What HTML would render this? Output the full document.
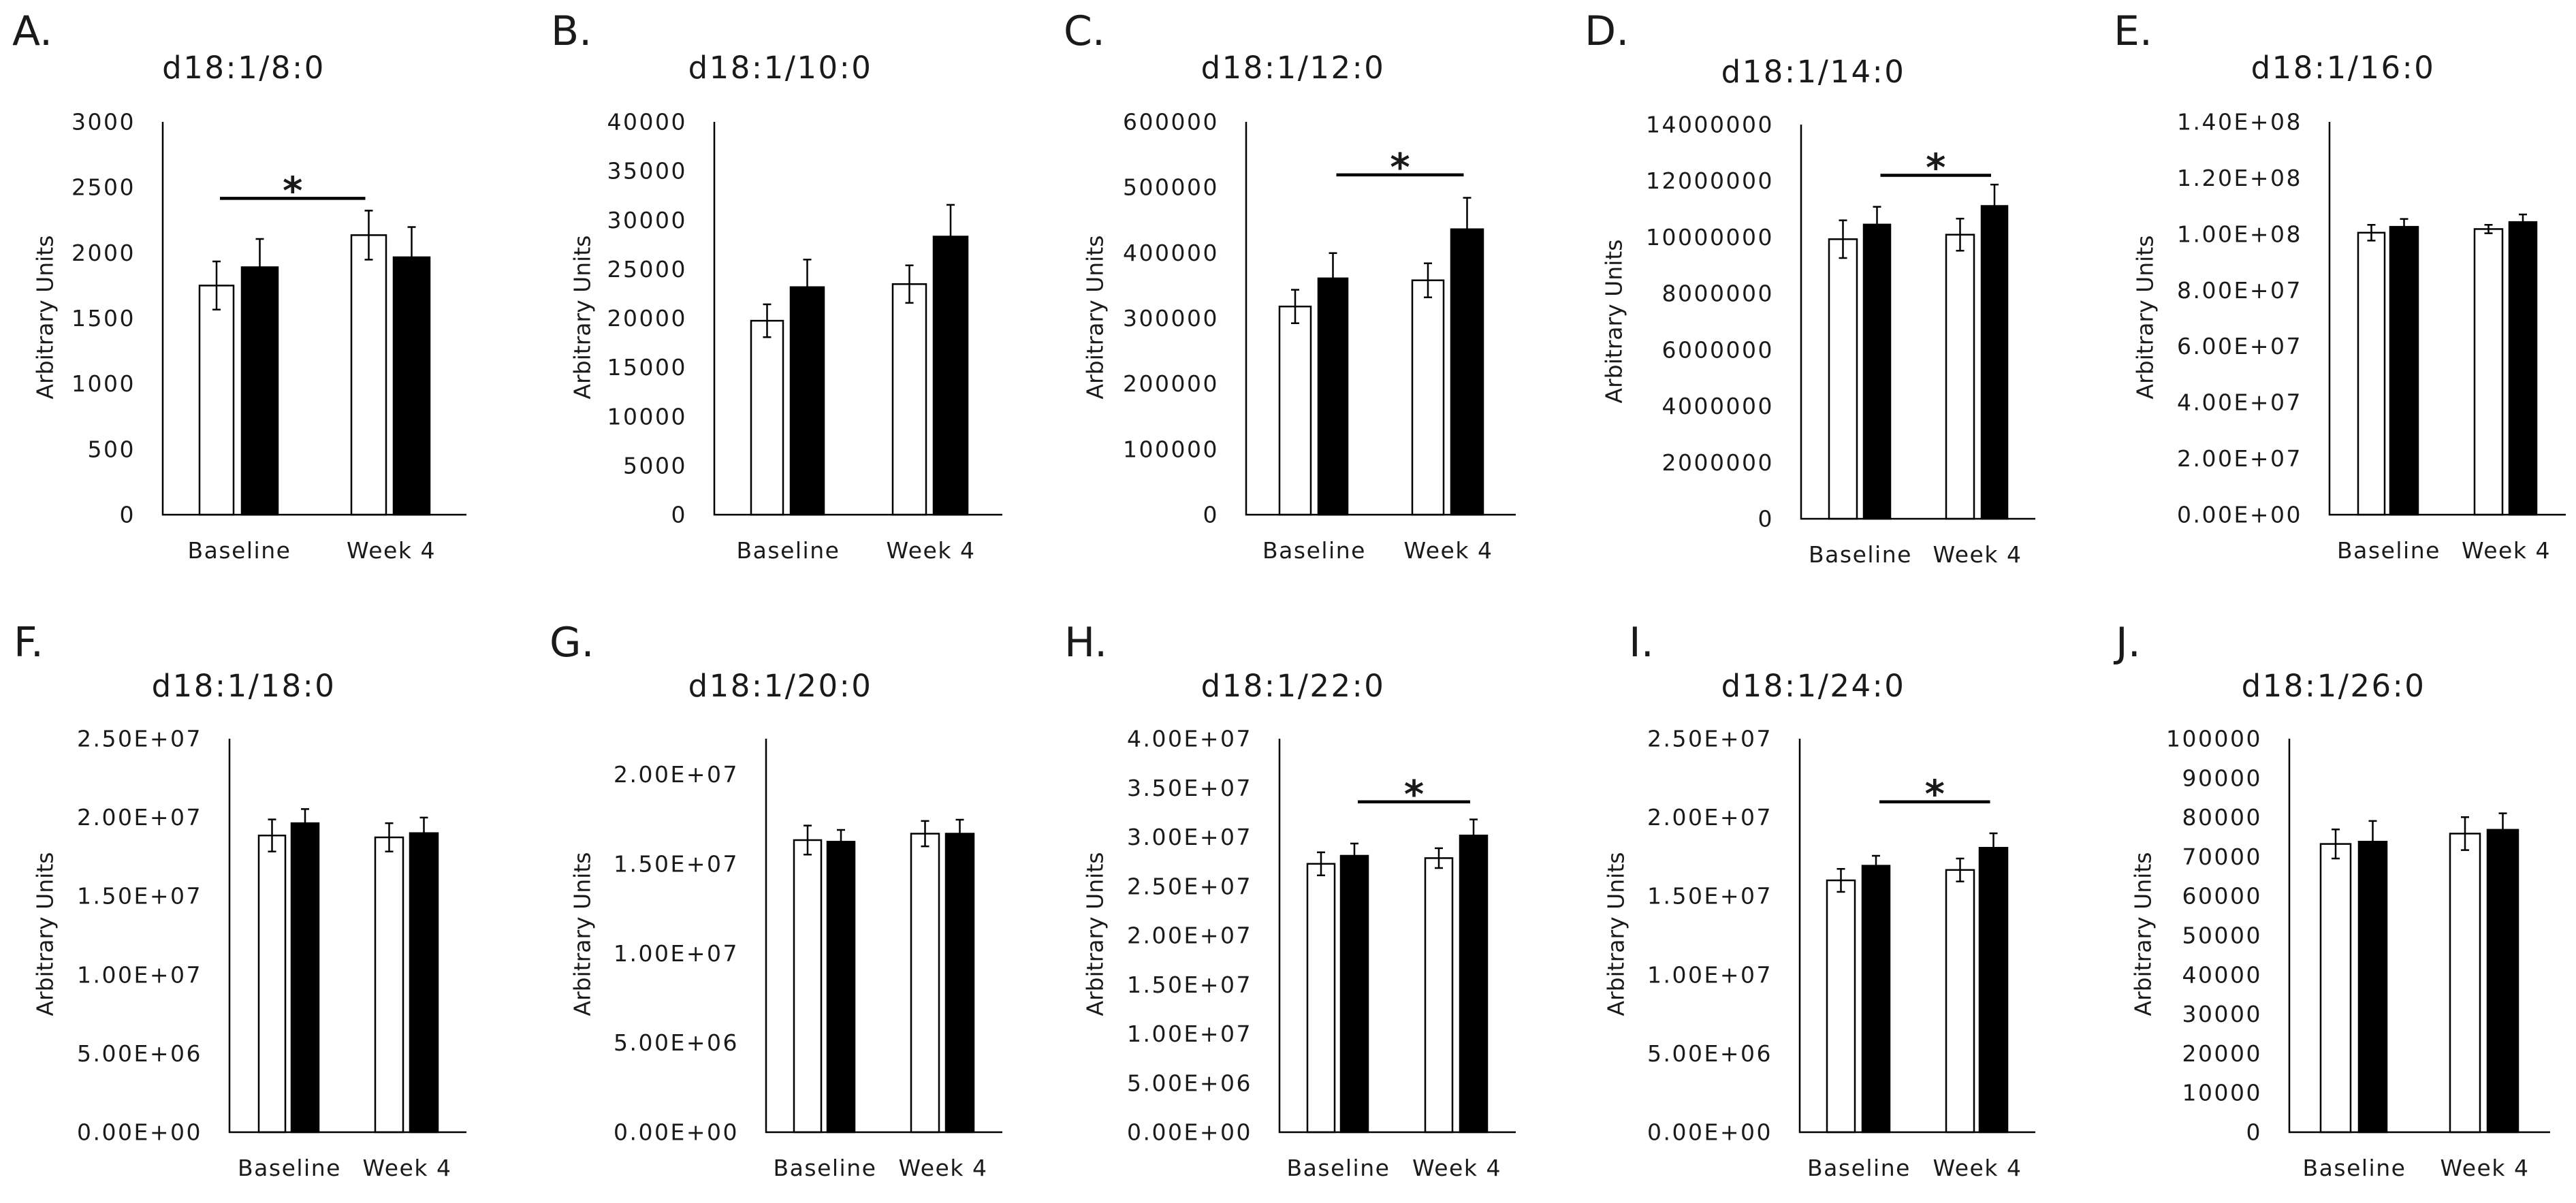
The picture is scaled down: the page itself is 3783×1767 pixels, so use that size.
<!DOCTYPE html>
<html><head><meta charset="utf-8"><style>
html,body{margin:0;padding:0;background:#fff;}
svg{display:block;}
text{font-family:"DejaVu Sans","Liberation Sans",sans-serif;fill:#1a1a1a;}
</style></head>
<body>
<svg id="fig" width="3783" height="1767" viewBox="0 0 3783 1767" xmlns="http://www.w3.org/2000/svg"></svg>
<script>
// ---- data ----
const panelLetters = ['A.','B.','C.','D.','E.','F.','G.','H.','I.','J.'];
const titles = ['d18:1/8:0','d18:1/10:0','d18:1/12:0','d18:1/14:0','d18:1/16:0','d18:1/18:0','d18:1/20:0','d18:1/22:0','d18:1/24:0','d18:1/26:0'];
const categories = ['Baseline','Week 4'];
const yMax = [3000,40000,600000,14000000,140000000,25000000,22000000,40000000,25000000,100000];
const yStep = [500,5000,100000,2000000,20000000,5000000,5000000,5000000,5000000,10000];
const tickExp = [false,false,false,false,true,true,true,true,true,false];
const whiteMeans = [[1750,2135],[19750,23480],[318000,358000],[9930000,10090000],[100500000,101800000],[18850000,18730000],[16330000,16690000],[27280000,27860000],[16000000,16660000],[73250,75880]];
const whiteErr = [[184,187],[1670,1910],[25500,26000],[670000,570000],[2800000,1500000],[1020000,900000],[810000,710000],[1170000,1010000],[730000,730000],[3700,4180]];
const blackMeans = [[1890,1966],[23170,28320],[361000,436000],[10450000,11110000],[102600000,104300000],[19630000,19000000],[16240000,16690000],[28100000,30160000],[16930000,18070000],[73830,76850]];
const blackErr = [[216,231],[2810,3230],[38600,48000],[630000,760000],[2800000,2700000],[900000,990000],[660000,780000],[1240000,1630000],[630000,920000],[5260,4180]];
// significance: bars 0=white base,1=black base,2=white wk4,3=black wk4
const sigPanels = [0,2,3,7,8];
const sigFrom = [0,1,1,1,1];
const sigTo = [2,3,3,3,3];
const sigValue = [2416,519000,12200000,33580000,20990000];

// ---- layout (pixels) ----
const L = [
 {ax:239,r:685,t:179,b:756,bars:[[293,343],[355,408],[516,567],[578,631]],lx:18,ly:66,tx:358,ty:115,yl:66,yc:466},
 {ax:1049,r:1472,t:179,b:756,bars:[[1103,1150],[1161,1210],[1311,1360],[1371,1421]],lx:809,ly:66,tx:1146,ty:115,yl:855,yc:466},
 {ax:1830,r:2226,t:179,b:756,bars:[[1879,1925],[1936,1979],[2074,2120],[2131,2178]],lx:1562,ly:66,tx:1899,ty:115,yl:1608,yc:466},
 {ax:2645,r:2989,t:183,b:762,bars:[[2686,2727],[2737,2776],[2858,2899],[2910,2948]],lx:2327,ly:66,tx:2663,ty:121,yl:2370,yc:472},
 {ax:3421,r:3768,t:179,b:756,bars:[[3463,3502],[3510,3551],[3634,3675],[3685,3725]],lx:3104,ly:66,tx:3441,ty:115,yl:3150,yc:466},
 {ax:337,r:685,t:1085,b:1663,bars:[[380,419],[428,468],[551,592],[602,643]],lx:20,ly:964,tx:358,ty:1023,yl:66,yc:1372},
 {ax:1125,r:1472,t:1085,b:1663,bars:[[1166,1206],[1215,1255],[1338,1379],[1389,1430]],lx:807,ly:964,tx:1146,ty:1023,yl:855,yc:1372},
 {ax:1879,r:2226,t:1085,b:1663,bars:[[1920,1960],[1969,2009],[2093,2133],[2144,2184]],lx:1563,ly:964,tx:1899,ty:1023,yl:1608,yc:1372},
 {ax:2643,r:2989,t:1085,b:1663,bars:[[2683,2724],[2735,2775],[2858,2899],[2907,2948]],lx:2392,ly:964,tx:2663,ty:1023,yl:2373,yc:1372},
 {ax:3362,r:3745,t:1085,b:1663,bars:[[3408,3452],[3464,3505],[3598,3642],[3653,3698]],lx:3107,ly:964,tx:3427,ty:1023,yl:3147,yc:1372}
];

const NS='http://www.w3.org/2000/svg';
const svg=document.getElementById('fig');
function mk(tag,attrs,parent){const e=document.createElementNS(NS,tag);for(const k in attrs)e.setAttribute(k,attrs[k]);(parent||svg).appendChild(e);return e;}
function fmt(v,exp){
  if(!exp) return String(Math.round(v));
  let s=v.toExponential(2).split('e');let ex=parseInt(s[1]);
  return s[0]+'E'+(ex<0?'-':'+')+String(Math.abs(ex)).padStart(2,'0');
}

for(let p=0;p<10;p++){
  const lay=L[p];
  const g=mk('g',{});
  
  
  const y=v=>lay.b-(v/yMax[p])*(lay.b-lay.t);

  const lt=mk('text',{x:lay.lx,y:lay.ly,'font-size':60},g);lt.textContent=panelLetters[p];
  
  

  const tt=mk('text',{x:lay.tx,y:lay.ty,'font-size':45,'text-anchor':'middle','letter-spacing':2.5},g);tt.textContent=titles[p];
  
  

  const yt=mk('text',{x:0,y:0,'font-size':33,'text-anchor':'middle','dominant-baseline':'central',transform:`translate(${lay.yl},${lay.yc}) rotate(-90)`},g);yt.textContent='Arbitrary Units';
  
  

  for(let v=0;v<=yMax[p]*1.000001;v+=yStep[p]){
    const t=mk('text',{x:lay.ax-40,y:y(v),'font-size':33,'text-anchor':'end','dominant-baseline':'central','letter-spacing':2.5},g);
    t.textContent=fmt(v,tickExp[p]);
    
    
  }

  const vals=[whiteMeans[p][0],blackMeans[p][0],whiteMeans[p][1],blackMeans[p][1]];
  const errs=[whiteErr[p][0],blackErr[p][0],whiteErr[p][1],blackErr[p][1]];
  for(let i=0;i<4;i++){
    const [l,r]=lay.bars[i];const black=(i%2===1);
    const rect=mk('rect',{x:l,y:y(vals[i]),width:r-l,height:lay.b-y(vals[i]),fill:black?'#000':'#fff',stroke:'#000','stroke-width':2.5},g);
    
    
    const cx=(l+r)/2, yh=y(vals[i]+errs[i]), yl=y(vals[i]-errs[i]);
    const eb=mk('path',{d:`M${cx},${yh}V${yl}M${cx-6},${yh}H${cx+6}M${cx-6},${yl}H${cx+6}`,stroke:'#000','stroke-width':2.5,fill:'none'},g);
    
    
  }

  const axes=mk('path',{d:`M${lay.ax},${lay.t}V${lay.b}H${lay.r}`,stroke:'#000','stroke-width':2.5,fill:'none'},g);
  
  

  for(let c=0;c<2;c++){
    const cx=(lay.bars[c*2][0]+lay.bars[c*2+1][1])/2;
    const xl=mk('text',{x:cx+1,y:lay.b+64,'font-size':33,'text-anchor':'middle','letter-spacing':1.5},g);
    xl.textContent=categories[c];
    
    
  }

  const si=sigPanels.indexOf(p);
  if(si>=0){
    const b1=lay.bars[sigFrom[si]], b2=lay.bars[sigTo[si]];
    const x1=(b1[0]+b1[1])/2+5, x2=(b2[0]+b2[1])/2-5, sy=y(sigValue[si]);
    const sl=mk('line',{x1:x1,x2:x2,y1:sy,y2:sy,stroke:'#000','stroke-width':4.5},g);
    
    
    const st=mk('text',{x:(x1+x2)/2,y:sy+8,'font-size':56,'font-weight':'bold','text-anchor':'middle'},g);
    st.textContent='*';
    
    
  }
}
</script>
</body></html>
